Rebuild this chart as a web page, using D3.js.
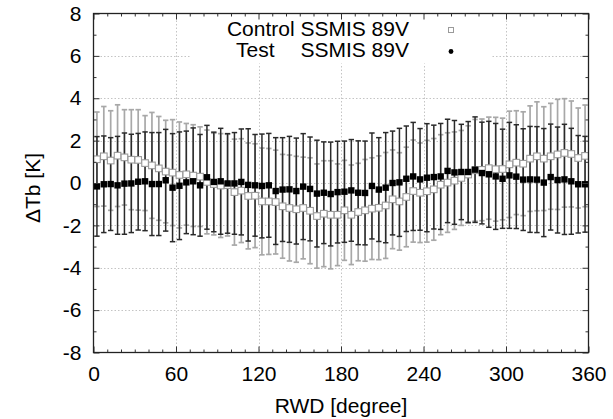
<!DOCTYPE html>
<html><head><meta charset="utf-8">
<script src="https://cdn.jsdelivr.net/npm/d3@7"></script>
<style>
body{margin:0;background:#fff;}
svg text{font-family:"Liberation Sans",Arial,sans-serif;fill:#000;}
</style></head>
<body><svg id="c" width="613" height="419"></svg>
<script>
const rwd = [2.5,7.5,12.5,17.5,22.5,27.5,32.5,37.5,42.5,47.5,52.5,57.5,62.5,67.5,72.5,77.5,82.5,87.5,92.5,97.5,
102.5,107.5,112.5,117.5,122.5,127.5,132.5,137.5,142.5,147.5,152.5,157.5,162.5,167.5,172.5,177.5,182.5,187.5,192.5,197.5,
202.5,207.5,212.5,217.5,222.5,227.5,232.5,237.5,242.5,247.5,252.5,257.5,262.5,267.5,272.5,277.5,282.5,287.5,292.5,297.5,
302.5,307.5,312.5,317.5,322.5,327.5,332.5,337.5,342.5,347.5,352.5,357.5];
const ctrlMean = [1.12,1.26,1.06,1.29,1.21,1.10,1.09,0.94,0.83,0.69,0.54,0.49,0.38,0.41,0.35,0.30,0.05,-0.05,-0.12,-0.10,
-0.43,-0.36,-0.61,-0.60,-0.87,-0.87,-0.90,-1.10,-1.18,-1.24,-1.18,-1.31,-1.56,-1.45,-1.50,-1.50,-1.29,-1.50,-1.37,-1.29,
-1.21,-1.17,-1.06,-0.77,-0.87,-0.66,-0.38,-0.46,-0.39,-0.30,-0.08,0.02,0.11,0.24,0.40,0.60,0.62,0.70,0.65,0.66,
0.88,0.96,0.91,1.15,1.26,1.15,1.26,1.35,1.42,1.37,1.18,1.28];
const ctrlSd = [2.23,2.35,2.35,2.40,2.25,2.36,2.37,2.24,2.50,2.45,2.42,2.50,2.50,2.40,2.40,2.35,2.45,2.40,2.45,2.40,
2.50,2.45,2.50,2.45,2.52,2.50,2.45,2.45,2.50,2.50,2.40,2.50,2.46,2.50,2.55,2.40,2.36,2.35,2.30,2.40,
2.40,2.45,2.50,2.33,2.30,2.35,2.41,2.35,2.40,2.40,2.36,2.35,2.30,2.24,2.30,2.40,2.40,2.41,2.45,2.40,
2.51,2.45,2.45,2.49,2.57,2.45,2.50,2.60,2.56,2.50,2.36,2.40];
const testMean = [-0.16,-0.06,-0.05,-0.11,-0.03,-0.02,0.06,0.08,-0.05,-0.05,0.13,-0.22,-0.13,0.03,0.08,-0.11,0.27,0.05,0.08,-0.02,
-0.02,0.05,-0.09,-0.11,-0.14,-0.11,-0.38,-0.31,-0.30,-0.38,-0.17,-0.28,-0.50,-0.46,-0.52,-0.43,-0.41,-0.35,-0.46,-0.47,
-0.14,-0.31,-0.22,0.00,0.03,0.20,0.31,0.17,0.25,0.28,0.31,0.57,0.50,0.52,0.52,0.63,0.47,0.41,0.31,0.20,
0.36,0.30,0.16,0.17,0.16,0.02,0.28,0.14,0.17,0.08,-0.06,-0.06];
const testSd = [2.35,2.28,2.19,2.31,2.39,2.32,2.28,2.33,2.43,2.43,2.40,2.55,2.54,2.42,2.52,2.40,2.45,2.35,2.50,2.35,
2.40,2.50,2.65,2.40,2.45,2.45,2.52,2.45,2.50,2.50,2.50,2.45,2.52,2.40,2.45,2.40,2.39,2.40,2.45,2.45,
2.50,2.45,2.60,2.45,2.55,2.49,2.55,2.40,2.55,2.45,2.50,2.44,2.45,2.25,2.38,2.49,2.40,2.50,2.50,2.34,
2.50,2.45,2.40,2.50,2.50,2.55,2.50,2.50,2.60,2.50,2.30,2.26];
const xTicks = [0,60,120,180,240,300,360];
const yTicks = [-8,-6,-4,-2,0,2,4,6,8];
const xMinor = [10,20,30,40,50,70,80,90,100,110,130,140,150,160,170,190,200,210,220,230,250,260,270,280,290,310,320,330,340,350];
const yMinor = [-7,-5,-3,-1,1,3,5,7];
const legendLabels = ["Control SSMIS 89V", "Test", "SSMIS 89V"];
const xTitle = "RWD [degree]";
const yTitle = "ΔTb [K]";

const svg = d3.select("#c");
const L = 93.5, R = 588.5, T = 13.5, B = 352.5;
const x = d3.scaleLinear().domain([0,360]).range([L,R]);
const y = d3.scaleLinear().domain([-8,8]).range([B,T]);
const fmt = d => String(d);

// grid
const grid = svg.append("g").attr("stroke","#c4c4c4").attr("stroke-width",1).attr("stroke-dasharray","1.5,2");
grid.selectAll(".gx").data(xTicks.slice(1,-1)).join("line")
  .attr("x1",d=>Math.round(x(d))+0.5).attr("x2",d=>Math.round(x(d))+0.5).attr("y1",T).attr("y2",B);
grid.selectAll(".gy").data(yTicks.slice(1,-1)).join("line")
  .attr("y1",d=>Math.round(y(d))+0.5).attr("y2",d=>Math.round(y(d))+0.5).attr("x1",L).attr("x2",R);

// legend white box (hides grid)
svg.append("rect").attr("x",190).attr("y",T+1).attr("width",302).attr("height",49).attr("fill","#fff");

const data = rwd.map((r,i)=>({r, cm:ctrlMean[i], cs:ctrlSd[i], tm:testMean[i], ts:testSd[i]}));

function errorbars(mean, sd, color, width){
  const g = svg.append("g").attr("stroke",color).attr("stroke-width",width).attr("fill","none");
  g.selectAll("line.v").data(data).join("line").attr("class","v")
    .attr("x1",d=>x(d.r)).attr("x2",d=>x(d.r))
    .attr("y1",d=>y(d[mean]+d[sd])).attr("y2",d=>y(d[mean]-d[sd]));
  g.selectAll("line.t").data(data).join("line").attr("class","t")
    .attr("x1",d=>x(d.r)-2.7).attr("x2",d=>x(d.r)+2.7)
    .attr("y1",d=>y(d[mean]+d[sd])).attr("y2",d=>y(d[mean]+d[sd]));
  g.selectAll("line.b").data(data).join("line").attr("class","b")
    .attr("x1",d=>x(d.r)-2.7).attr("x2",d=>x(d.r)+2.7)
    .attr("y1",d=>y(d[mean]-d[sd])).attr("y2",d=>y(d[mean]-d[sd]));
}
errorbars("cm","cs","#a8a8a8",1.7);
errorbars("tm","ts","#2a2a2a",1.5);

// control markers: open gray squares
svg.append("g").selectAll("rect").data(data).join("rect")
  .attr("x",d=>x(d.r)-3.3).attr("y",d=>y(d.cm)-3.3).attr("width",6.6).attr("height",6.6)
  .attr("fill","#fff").attr("stroke","#9a9a9a").attr("stroke-width",1.1);
// test markers: filled black squares
svg.append("g").selectAll("rect").data(data).join("rect")
  .attr("x",d=>x(d.r)-3.2).attr("y",d=>y(d.tm)-3.2).attr("width",6.4).attr("height",6.4)
  .attr("fill","#000");

// ticks (inward on all sides)
function tickAxis(axisFn, scale, vals, size, tx, ty){
  const g = svg.append("g").attr("transform",`translate(${tx},${ty})`)
    .call(axisFn(scale).tickValues(vals).tickSize(size).tickFormat(""));
  g.select(".domain").remove();
  g.selectAll("line").attr("stroke","#333").attr("stroke-width",1);
  return g;
}
tickAxis(d3.axisBottom, x, xTicks, -6, 0, B);
tickAxis(d3.axisBottom, x, xMinor, -3, 0, B);
tickAxis(d3.axisTop, x, xTicks, -6, 0, T);
tickAxis(d3.axisTop, x, xMinor, -3, 0, T);
tickAxis(d3.axisLeft, y, yTicks, -6, L, 0);
tickAxis(d3.axisLeft, y, yMinor, -3, L, 0);
tickAxis(d3.axisRight, y, yTicks, -6, R, 0);
tickAxis(d3.axisRight, y, yMinor, -3, R, 0);

// frame
svg.append("rect").attr("x",L).attr("y",T).attr("width",R-L).attr("height",B-T)
  .attr("fill","none").attr("stroke","#222").attr("stroke-width",1.3);

// tick labels
const xl = svg.append("g").attr("transform",`translate(0,${B})`)
  .call(d3.axisBottom(x).tickValues(xTicks).tickSize(0).tickPadding(14).tickFormat(fmt));
xl.select(".domain").remove();
xl.selectAll("text").attr("font-size",21).attr("font-family","Liberation Sans, Arial, sans-serif").attr("fill","#000");
const yl = svg.append("g").attr("transform",`translate(${L},0)`)
  .call(d3.axisLeft(y).tickValues(yTicks).tickSize(0).tickPadding(12).tickFormat(fmt));
yl.select(".domain").remove();
yl.selectAll("text").attr("font-size",21).attr("font-family","Liberation Sans, Arial, sans-serif").attr("fill","#000");

// axis titles
svg.append("text").attr("x",341).attr("y",413).attr("text-anchor","middle").attr("font-size",21).text(xTitle);
svg.append("text").attr("transform","translate(40,188) rotate(-90)").attr("text-anchor","middle").attr("font-size",21).text(yTitle);

// legend
svg.append("text").attr("x",409).attr("y",36).attr("text-anchor","end").attr("font-size",21).text(legendLabels[0]);
svg.append("text").attr("x",236).attr("y",57).attr("text-anchor","start").attr("font-size",21).text(legendLabels[1]);
svg.append("text").attr("x",409).attr("y",57).attr("text-anchor","end").attr("font-size",21).text(legendLabels[2]);
svg.append("rect").attr("x",448.5).attr("y",27.5).attr("width",5).attr("height",5)
  .attr("fill","#fff").attr("stroke","#9a9a9a").attr("stroke-width",1);
svg.append("circle").attr("cx",451).attr("cy",51.5).attr("r",2.4).attr("fill","#000");
</script></body></html>
